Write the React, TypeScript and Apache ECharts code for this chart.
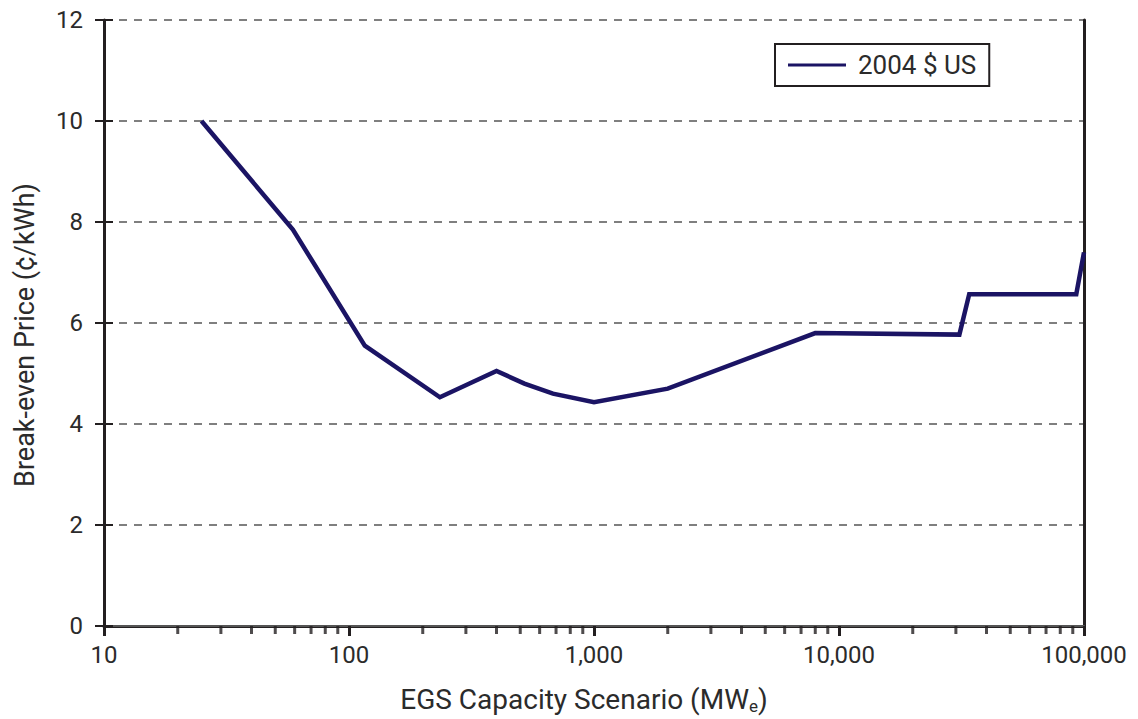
import React, { useEffect, useRef } from "react";
import * as echarts from "echarts";

const seriesName = "2004 $ US";
const capacityMW = [25, 59, 116, 235, 400, 520, 680, 1000, 2000, 8000, 31000, 34000, 93000, 100000];
const priceCents = [10, 7.85, 5.55, 4.53, 5.05, 4.8, 4.6, 4.43, 4.7, 5.8, 5.77, 6.57, 6.57, 7.4];
const minorTickValues = [
  20, 30, 40, 50, 60, 70, 80, 90,
  200, 300, 400, 500, 600, 700, 800, 900,
  2000, 3000, 4000, 5000, 6000, 7000, 8000, 9000,
  20000, 30000, 40000, 50000, 60000, 70000, 80000, 90000,
];
const yTicks = [0, 2, 4, 6, 8, 10, 12];

const FONT = "Roboto";
const TEXT = "#2b2b2b";
const AXIS = "#231f20";

export default function App() {
  const ref = useRef<HTMLDivElement>(null);
  useEffect(() => {
    document.body.style.margin = "0";
    const chart = echarts.init(ref.current!, null, { renderer: "svg" });
    chart.setOption({
      animation: false,
      backgroundColor: "#ffffff",
      textStyle: { fontFamily: FONT },
      grid: { left: 104, right: 54, top: 20, bottom: 85 },
      legend: {
        data: [seriesName],
        left: 775,
        top: 44,
        icon: "rect",
        itemWidth: 58,
        itemHeight: 3,
        borderColor: AXIS,
        borderWidth: 2,
        padding: [8, 13, 8, 13],
        textStyle: { fontSize: 26, color: TEXT, fontFamily: FONT, padding: [0, 0, 0, 7] },
      },
      xAxis: [
        {
          type: "log",
          logBase: 10,
          min: 10,
          max: 100000,
          name: "{a|EGS Capacity Scenario (MW}{sub|e}{a|)}",
          nameLocation: "middle",
          nameGap: 58,
          nameTextStyle: {
            padding: [0, 20, 0, 0],
            rich: {
              a: { fontSize: 28, color: TEXT, fontFamily: FONT, lineHeight: 30 },
              sub: { fontSize: 17, color: TEXT, fontFamily: FONT, verticalAlign: "bottom", lineHeight: 16 },
            },
          },
          axisLine: { show: true, lineStyle: { color: AXIS, width: 3 } },
          axisTick: { show: true, inside: false, length: 10, lineStyle: { color: AXIS, width: 3 } },
          axisLabel: {
            fontSize: 24,
            color: TEXT,
            margin: 17,
            formatter: (v: number) => v.toLocaleString("en-US"),
          },
          splitLine: { show: false },
        },
        {
          type: "log",
          logBase: 10,
          min: 10,
          max: 100000,
          position: "top",
          axisLine: { show: true, lineStyle: { color: "#555555", width: 2 } },
          axisTick: { show: false },
          axisLabel: { show: false },
          splitLine: { show: false },
        },
      ],
      yAxis: [
        {
          type: "value",
          min: yTicks[0],
          max: yTicks[yTicks.length - 1],
          interval: 2,
          name: "Break-even Price (¢/kWh)",
          nameLocation: "middle",
          nameGap: 66,
          nameTextStyle: { fontSize: 27, color: TEXT, fontFamily: FONT, padding: [0, 24, 0, 0] },
          axisLine: { show: true, lineStyle: { color: AXIS, width: 3 } },
          axisTick: { show: true, inside: false, length: 9, lineStyle: { color: AXIS, width: 2 } },
          axisLabel: { fontSize: 24, color: TEXT, margin: 21 },
          splitLine: { show: true, lineStyle: { color: "#555555", width: 1.5, type: [8, 7] } },
        },
        {
          type: "value",
          min: yTicks[0],
          max: yTicks[yTicks.length - 1],
          interval: 2,
          position: "left",
          axisLine: { show: false },
          axisTick: { show: true, inside: true, length: 9, lineStyle: { color: AXIS, width: 2 } },
          axisLabel: { show: false },
          splitLine: { show: false },
        },
        {
          type: "value",
          min: yTicks[0],
          max: yTicks[yTicks.length - 1],
          interval: 2,
          position: "right",
          axisLine: { show: true, lineStyle: { color: AXIS, width: 3 } },
          axisTick: { show: false },
          axisLabel: { show: false },
          splitLine: { show: false },
        },
      ],
      series: [
        {
          name: "minorTicks",
          type: "scatter",
          silent: true,
          clip: false,
          symbol: "rect",
          symbolSize: [3, 8],
          symbolOffset: [0, 4],
          itemStyle: { color: AXIS },
          data: minorTickValues.map((v) => [v, 0]),
          z: 5,
        },
        {
          name: seriesName,
          type: "line",
          data: capacityMW.map((c, i) => [c, priceCents[i]]),
          showSymbol: false,
          symbol: "none",
          lineStyle: { color: "#1b1464", width: 4.5, join: "miter" },
          itemStyle: { color: "#1b1464" },
          clip: false,
          z: 10,
        },
      ],
    });
    return () => chart.dispose();
  }, []);
  return <div ref={ref} style={{ width: 1138, height: 719 }} />;
}
